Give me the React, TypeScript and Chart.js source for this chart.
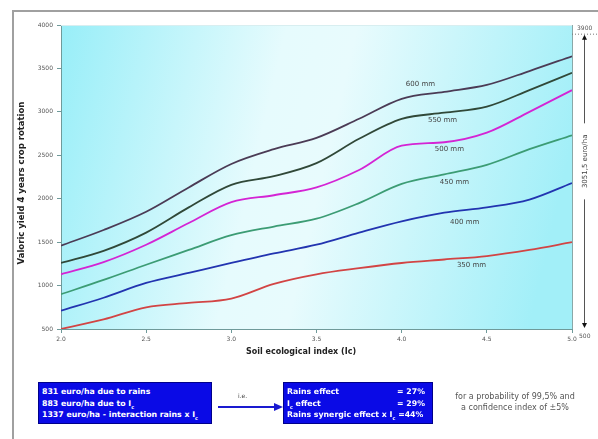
import React, { useEffect, useRef } from "react";
import { Chart, registerables } from "chart.js";
Chart.register(...registerables);

const soilIndex = [2.0, 2.25, 2.5, 2.75, 3.0, 3.25, 3.5, 3.75, 4.0, 4.25, 4.5, 4.75, 5.0];
const rain600 = [1460, 1640, 1850, 2130, 2400, 2570, 2700, 2920, 3150, 3230, 3310, 3470, 3640];
const rain550 = [1260, 1400, 1610, 1900, 2160, 2260, 2410, 2690, 2920, 2990, 3060, 3250, 3450];
const rain500 = [1130, 1270, 1470, 1720, 1960, 2040, 2130, 2330, 2610, 2650, 2760, 3000, 3250];
const rain450 = [900, 1065, 1240, 1410, 1580, 1680, 1770, 1950, 2170, 2280, 2390, 2570, 2730];
const rain400 = [710, 860, 1030, 1145, 1260, 1370, 1470, 1610, 1740, 1840, 1900, 1990, 2180];
const rain350 = [500, 610, 750, 800, 850, 1020, 1130, 1200, 1260, 1300, 1340, 1410, 1500];

const seriesNames = ["600 mm", "550 mm", "500 mm", "450 mm", "400 mm", "350 mm"];
const seriesColors = ["#4b3b55", "#304838", "#d424d4", "#3c9c74", "#2234b0", "#d24444"];
const labelX = [4.11, 4.24, 4.28, 4.31, 4.37, 4.41];
const labelY = [3320, 2906, 2572, 2192, 1732, 1237];

const yMin = 500;
const yMax = 4000;
const yStep = 500;
const xMin = 2.0;
const xMax = 5.0;
const xStep = 0.5;
const annotTop = 3900;
const annotBottom = 500;
const annotText = "3051,5 euro/ha";

const FONT = "'DejaVu Sans', Verdana, sans-serif";

export default function App() {
  const ref = useRef<HTMLCanvasElement | null>(null);
  useEffect(() => {
    const all = [rain600, rain550, rain500, rain450, rain400, rain350];
    const datasets = all.map((arr, i) => ({
      label: seriesNames[i],
      data: arr.map((v, j) => ({ x: soilIndex[j], y: v })),
      borderColor: seriesColors[i],
      borderWidth: 1.8,
      pointRadius: 0,
      fill: false,
      cubicInterpolationMode: "monotone" as const,
    }));

    const bgPlugin = {
      id: "bg",
      beforeDraw(chart: any) {
        const { ctx, chartArea: a } = chart;
        const g = ctx.createLinearGradient(a.left, a.top, a.right, a.top + 120);
        g.addColorStop(0, "#98eef8");
        g.addColorStop(0.42, "#e6fbfd");
        g.addColorStop(0.55, "#e8fbfd");
        g.addColorStop(1, "#a2eff8");
        ctx.save();
        ctx.fillStyle = g;
        ctx.fillRect(a.left, a.top, a.right - a.left, a.bottom - a.top);
        ctx.restore();
      },
      afterDraw(chart: any) {
        const { ctx, chartArea: a, scales } = chart;
        const xs = scales.x;
        const ys = scales.y;
        ctx.save();
        ctx.strokeStyle = "#8aa8a8";
        ctx.lineWidth = 1;
        ctx.beginPath();
        ctx.moveTo(a.right + 0.5, a.top);
        ctx.lineTo(a.right + 0.5, a.bottom);
        ctx.stroke();
        ctx.strokeStyle = "#d8eef0";
        ctx.beginPath();
        ctx.moveTo(a.left, a.top + 0.5);
        ctx.lineTo(a.right, a.top + 0.5);
        ctx.stroke();

        // line labels
        ctx.fillStyle = "#444";
        ctx.font = `7px ${FONT}`;
        ctx.textAlign = "center";
        ctx.textBaseline = "middle";
        seriesNames.forEach((n, i) => {
          ctx.fillText(n, xs.getPixelForValue(labelX[i]), ys.getPixelForValue(labelY[i]));
        });

        // axis titles
        ctx.fillStyle = "#222";
        ctx.font = `bold 8px ${FONT}`;
        ctx.fillText("Soil ecological index (Ic)", 301, 352);
        ctx.save();
        ctx.translate(22, 183);
        ctx.rotate(-Math.PI / 2);
        ctx.font = `bold 8.5px ${FONT}`;
        ctx.fillText("Valoric yield 4 years crop rotation", 0, 0);
        ctx.restore();

        // right annotation
        const yT = ys.getPixelForValue(annotTop);
        const yB = ys.getPixelForValue(annotBottom);
        const ax = 584;
        ctx.strokeStyle = "#777";
        ctx.setLineDash([1, 2]);
        ctx.beginPath();
        ctx.moveTo(a.right, yT + 0.5);
        ctx.lineTo(598, yT + 0.5);
        ctx.stroke();
        ctx.setLineDash([]);
        ctx.fillStyle = "#555";
        ctx.font = `6px ${FONT}`;
        ctx.textAlign = "left";
        ctx.fillText(String(annotTop), 577, yT - 5);
        ctx.fillText(String(annotBottom), 579, yB + 7);
        const midY = (yT + yB) / 2 - 20;
        ctx.strokeStyle = "#555";
        ctx.lineWidth = 1;
        ctx.beginPath();
        ctx.moveTo(ax + 0.5, yT + 4);
        ctx.lineTo(ax + 0.5, midY - 38);
        ctx.moveTo(ax + 0.5, midY + 38);
        ctx.lineTo(ax + 0.5, yB - 4);
        ctx.stroke();
        ctx.fillStyle = "#111";
        ctx.beginPath();
        ctx.moveTo(ax + 0.5, yT + 1);
        ctx.lineTo(ax - 2, yT + 6);
        ctx.lineTo(ax + 3, yT + 6);
        ctx.closePath();
        ctx.fill();
        ctx.beginPath();
        ctx.moveTo(ax + 0.5, yB - 1);
        ctx.lineTo(ax - 2, yB - 6);
        ctx.lineTo(ax + 3, yB - 6);
        ctx.closePath();
        ctx.fill();
        ctx.save();
        ctx.translate(ax + 1, midY);
        ctx.rotate(-Math.PI / 2);
        ctx.textAlign = "center";
        ctx.fillStyle = "#444";
        ctx.font = `7px ${FONT}`;
        ctx.fillText(annotText, 0, 0);
        ctx.restore();
        ctx.restore();
      },
    };

    const chart = new Chart(ref.current as HTMLCanvasElement, {
      type: "line",
      data: { datasets },
      options: {
        animation: false,
        responsive: false,
        devicePixelRatio: 1,
        layout: { padding: { left: 14, right: 26, top: 25, bottom: 0 } },
        plugins: { legend: { display: false }, tooltip: { enabled: false } },
        scales: {
          x: {
            type: "linear",
            min: xMin,
            max: xMax,
            afterFit: (s: any) => {
              s.height = 110;
            },
            ticks: {
              stepSize: xStep,
              color: "#555",
              font: { size: 6, family: FONT },
              padding: 3,
              maxRotation: 0,
              callback: (v: any) => Number(v).toFixed(1),
            },
            grid: { drawOnChartArea: false, tickLength: 4, color: "#6f9a9a" },
            border: { color: "#6f9a9a", width: 1 },
          },
          y: {
            type: "linear",
            min: yMin,
            max: yMax,
            afterFit: (s: any) => {
              s.width = 47;
            },
            ticks: {
              stepSize: yStep,
              color: "#555",
              font: { size: 6, family: FONT },
              padding: 4,
              callback: (v: any) => String(v),
            },
            grid: { drawOnChartArea: false, tickLength: 4, color: "#6f9a9a" },
            border: { color: "#6f9a9a", width: 1 },
          },
        },
      },
      plugins: [bgPlugin],
    } as any);
    return () => chart.destroy();
  }, []);

  const boxStyle: React.CSSProperties = {
    position: "absolute",
    top: 382,
    height: 42,
    background: "#0a0ae6",
    border: "1px solid #00008a",
    color: "#fff",
    fontFamily: FONT,
    fontWeight: "bold",
    fontSize: 7.8,
    lineHeight: "11.5px",
    padding: "3px 3px",
    boxSizing: "border-box",
    whiteSpace: "nowrap",
    overflow: "hidden",
  };

  return (
    <div style={{ position: "absolute", left: 0, top: 0, width: 598, height: 439, background: "#fff", overflow: "hidden" }}>
      <div
        style={{
          position: "absolute",
          left: 12,
          top: 10,
          width: 600,
          height: 440,
          borderLeft: "2px solid #a0a0a0",
          borderTop: "2px solid #a0a0a0",
        }}
      />
      <canvas ref={ref} width={598} height={439} style={{ position: "absolute", left: 0, top: 0, display: "block" }} />
      <div style={{ ...boxStyle, left: 38, width: 174 }}>
        <div>831 euro/ha due to rains</div>
        <div>
          883 euro/ha due to I<sub style={{ fontSize: 5, lineHeight: 0 }}>c</sub>
        </div>
        <div>
          1337 euro/ha - interaction rains x I<sub style={{ fontSize: 5, lineHeight: 0 }}>c</sub>
        </div>
      </div>
      <div style={{ position: "absolute", left: 238, top: 392, fontFamily: FONT, fontSize: 6, color: "#444" }}>i.e.</div>
      <svg style={{ position: "absolute", left: 216, top: 400 }} width={70} height={14}>
        <line x1={2} y1={7} x2={60} y2={7} stroke="#1a1ad0" strokeWidth={2} />
        <polygon points="67,7 58,3 58,11" fill="#1a1ad0" />
      </svg>
      <div style={{ ...boxStyle, left: 283, width: 150 }}>
        <div style={{ display: "flex", justifyContent: "space-between", paddingRight: 4 }}>
          <span>Rains effect</span>
          <span>= 27%</span>
        </div>
        <div style={{ display: "flex", justifyContent: "space-between", paddingRight: 4 }}>
          <span>
            I<sub style={{ fontSize: 5, lineHeight: 0 }}>c</sub> effect
          </span>
          <span>= 29%</span>
        </div>
        <div>
          Rains synergic effect x I<sub style={{ fontSize: 5, lineHeight: 0 }}>c</sub> =44%
        </div>
      </div>
      <div
        style={{
          position: "absolute",
          left: 440,
          top: 391,
          width: 150,
          textAlign: "center",
          fontFamily: FONT,
          fontSize: 8,
          lineHeight: "11px",
          color: "#555",
          whiteSpace: "nowrap",
        }}
      >
        <div>for a probability of 99,5% and</div>
        <div>a confidence index of ±5%</div>
      </div>
    </div>
  );
}
